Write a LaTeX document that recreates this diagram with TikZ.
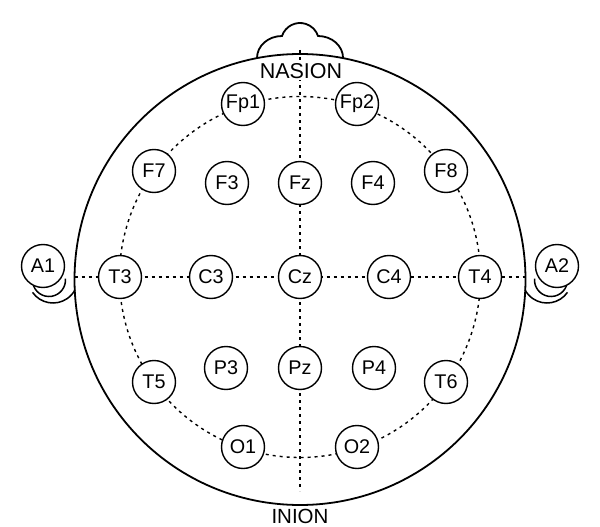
\documentclass[tikz,border=0pt]{standalone}
\usepackage{fontspec}
\setmainfont{Liberation Sans}
\begin{document}
\begin{tikzpicture}[x=1pt,y=-1pt,
  elec/.style={circle,draw,fill=white,minimum size=43pt,inner sep=0pt,line width=1.4pt,font=\fontsize{19.8}{21}\selectfont},
  dotline/.style={line width=1.4pt,dash pattern=on 3pt off 4pt},
  headline/.style={line width=1.8pt},
  earline/.style={line width=1.5pt},
  lbl/.style={font=\fontsize{21.5}{23}\selectfont,fill=white,inner sep=1pt}]
\useasboundingbox (0,0) rectangle (600,527);

% nose
\draw[headline,fill=white] (257,58)
  arc[start angle=180,end angle=270,x radius=25,y radius=22]
  arc[start angle=198.4,end angle=341.6,radius=19]
  arc[start angle=270,end angle=360,x radius=25,y radius=22];

% head
\draw[headline] (300,279.5) circle[radius=225.5];

% ears (arcs behind the reference electrodes)
\draw[earline] (53,278) ++(145:25) arc[start angle=145,end angle=28,radius=25];
\draw[earline] (49,280) ++(170:16.5) arc[start angle=170,end angle=-5,radius=16.5];
\draw[earline] (547,278) ++(35:25) arc[start angle=35,end angle=152,radius=25];
\draw[earline] (551,280) ++(10:16.5) arc[start angle=10,end angle=185,radius=16.5];

% guide lines
\coordinate (ntop) at (300,50);
\coordinate (nbot) at (300,491);
\coordinate (hleft) at (74.5,277);
\coordinate (hright) at (525.5,277);
\draw[dotline] (ntop) -- (nbot);
\draw[dotline] (hleft) -- (hright);
\draw[dotline] (300,277) circle[radius=180.5];

% labels
\node[lbl] (nasion) at (301,71) {NASION};
\node[font=\fontsize{20.5}{22}\selectfont,inner sep=0pt] (inion) at (300,516.5) {INION};

% electrodes
\node[elec] (Fp1) at (243,104) {Fp1};
\node[elec] (Fp2) at (357,104) {Fp2};
\node[elec] (F7) at (154,171) {F7};
\node[elec] (F8) at (446,171) {F8};
\node[elec] (F3) at (227,183) {F3};
\node[elec] (Fz) at (300,183) {Fz};
\node[elec] (F4) at (373,183) {F4};
\node[elec] (T3) at (120,277) {T3};
\node[elec] (C3) at (211,277) {C3};
\node[elec] (Cz) at (300,277) {Cz};
\node[elec] (C4) at (389,277) {C4};
\node[elec] (T4) at (480,277) {T4};
\node[elec] (T5) at (154,382) {T5};
\node[elec] (P3) at (226,368) {P3};
\node[elec] (Pz) at (300,368) {Pz};
\node[elec] (P4) at (374,368) {P4};
\node[elec] (T6) at (446,382) {T6};
\node[elec] (O1) at (243,447) {O1};
\node[elec] (O2) at (357,447) {O2};
\node[elec] (A1) at (43,266) {A1};
\node[elec] (A2) at (557,266) {A2};
\end{tikzpicture}
\end{document}
